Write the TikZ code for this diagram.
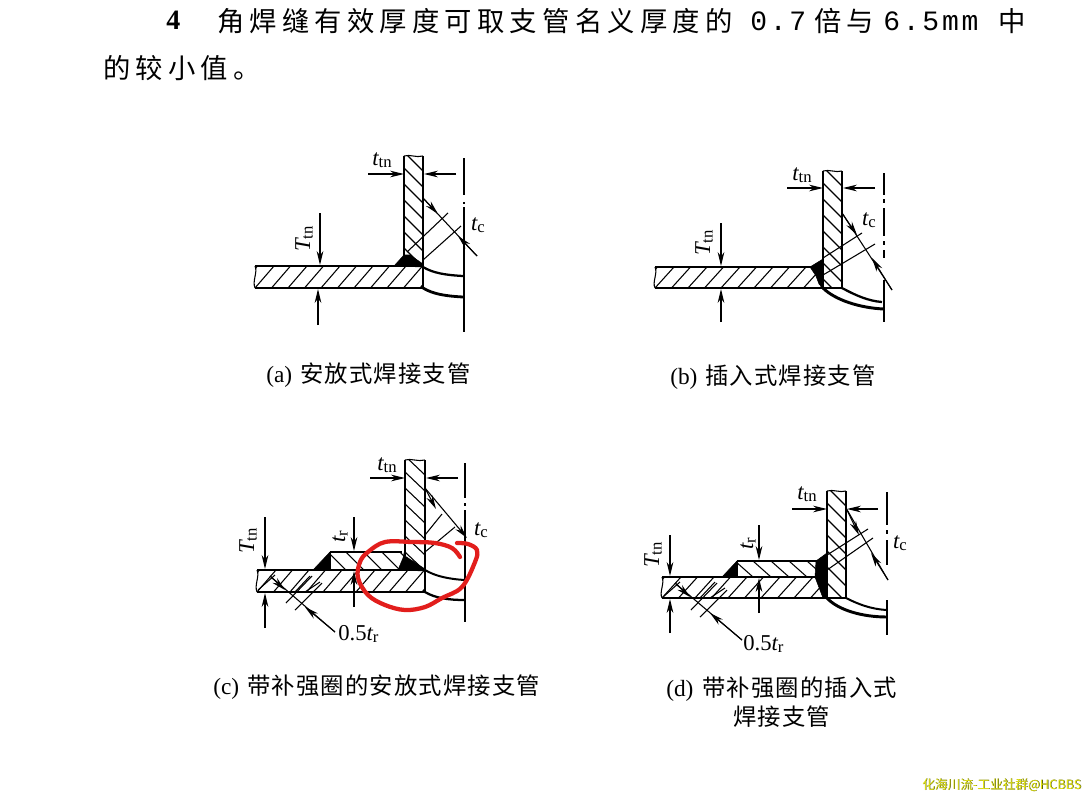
\documentclass[tikz,border=0pt]{standalone}
\usepackage{fontspec}
\setmainfont{Liberation Serif}
\newfontfamily\cjktitle[LetterSpace=19]{Noto Sans CJK SC}
\newfontfamily\cjkcap[LetterSpace=5]{Noto Sans CJK SC}
\newfontfamily\cjkmark{Noto Sans CJK SC}
\newfontfamily\digits[LetterSpace=10]{Liberation Mono}
\usetikzlibrary{arrows.meta}
\definecolor{inkred}{RGB}{226,30,28}
\definecolor{markyellow}{RGB}{232,232,20}
\definecolor{markdark}{RGB}{50,60,0}
\tikzset{
  outline/.style={line width=2.1pt,black},
  thinline/.style={line width=0.8pt,black},
  hatchline/.style={line width=0.8pt,black},
  dim/.style={line width=0.8pt,black,-{Stealth[length=10.5pt,width=5pt]}},
  dimline/.style={line width=0.8pt,black},
  centerline/.style={line width=1pt,black},
  weld/.style={fill=black,draw=black,line width=0.4pt},
  lbl/.style={inner sep=0pt,font=\fontsize{17}{17}\selectfont},
  titletext/.style={inner sep=0pt,anchor=base west,font=\fontsize{20.5}{21}\selectfont\cjktitle},
  captext/.style={inner sep=0pt,anchor=base west,font=\fontsize{17.5}{18}\selectfont\cjkcap},
  caplatin/.style={inner sep=0pt,anchor=base west,font=\fontsize{17.5}{18}\selectfont}
}
\newcommand{\Ttn}{{\itshape T}\raisebox{-0.25ex}{\fontsize{12.5}{12}\selectfont tn}}
\newcommand{\ttn}{{\itshape t}\raisebox{-0.25ex}{\fontsize{12.5}{12}\selectfont tn}}
\newcommand{\tc}{{\itshape t}\raisebox{-0.25ex}{\fontsize{12.5}{12}\selectfont c}}
\newcommand{\trr}{{\itshape t}\raisebox{-0.25ex}{\fontsize{12.5}{12}\selectfont r}}
% header hatch: x1,y1,x2,y2  ("/" lines)
\newcommand{\hatchH}[4]{\begin{scope}
  \clip (#1,#2) rectangle (#3,#4);
  \foreach \k in {-2,...,12}{\draw[hatchline] (#1+16.5*\k,#4) -- (#1+16.5*\k+19,#2);}
\end{scope}}
% branch hatch: x1,y1,x2,y2  ("\" lines)
\newcommand{\hatchB}[4]{\begin{scope}
  \clip (#1,#2) rectangle (#3,#4);
  \foreach \yy in {-20,-4,...,180}{\draw[hatchline] (#1,#2+\yy) -- (#3,#2+\yy+19);}
\end{scope}}
% pad hatch: x1,y1,x2,y2
\newcommand{\hatchP}[4]{\begin{scope}
  \clip (#1,#2) rectangle (#3,#4);
  \foreach \xx in {-20,-2,...,120}{\draw[hatchline] (#1+\xx,#2) -- (#1+\xx+18,#4);}
\end{scope}}
\begin{document}
\begin{tikzpicture}[x=0.75pt,y=-0.75pt]
\useasboundingbox (0,0) rectangle (1090,801);
\fill[white] (0,0) rectangle (1090,801);

% ---------- top text
\node[inner sep=0pt,anchor=base west,font=\fontsize{21}{21}\selectfont\bfseries] (num) at (166,29) {4};
\node[titletext] (line1a) at (217,31) {角焊缝有效厚度可取支管名义厚度的};
\node[inner sep=0pt,anchor=base west,font=\fontsize{21}{21}\selectfont\digits] (line1b) at (750,30) {0.7};
\node[titletext] (line1c) at (814,31) {倍与};
\node[inner sep=0pt,anchor=base west,font=\fontsize{21}{21}\selectfont\digits] (line1d) at (883,30) {6.5mm};
\node[titletext] (line1e) at (998,31) {中};
\node[titletext] (line2) at (103,78) {的较小值。};

% ---------- (a)
\hatchH{255}{266}{423}{288}
\hatchB{404}{156}{423}{266}
\draw[outline] (404,156) -- (404,262);
\draw[outline] (423,156) -- (423,288);
\draw[outline] (255,266) -- (423,266);
\draw[outline] (255,288) -- (423,288);
\draw[thinline] (404,156) .. controls (410,154) and (416,158) .. (423,156);
\draw[thinline] (255,266) .. controls (258,272) and (252,281) .. (255,288);
\fill[weld] (394,266) -- (404,255) -- (410,255) -- (423,264) -- (423,267) -- cycle;
\draw[line width=1.7pt] (423,267) .. controls (433,273) and (445,275) .. (463,276);
\draw[line width=2.1pt] (423,288) .. controls (433,294) and (445,296) .. (463,297);
\draw[centerline] (464,158) -- (464,195) (464,202) -- (464,204) (464,207) -- (464,332);
\draw[dim] (368,174) -- (404,174);
\draw[dim] (456,174) -- (424,174);
\node[lbl] (ta) at (382,160) {\ttn};
\draw[dimline] (423,198) -- (477,256);
\draw[dim] (423,198) -- (438,214);
\draw[dim] (477,256) -- (458,236);
\draw[dimline] (407,252) -- (448,213);
\draw[dimline] (423,260) -- (461,226);
\node[lbl] (tca) at (478,225) {\tc};
\draw[dim] (320,213) -- (320,265);
\draw[dim] (318,325) -- (318,289);
\node[lbl,rotate=90] (Ta) at (304,239) {\Ttn};

% ---------- (b)
\hatchH{655}{267}{823}{288}
\hatchB{823}{171}{842}{288}
\draw[outline] (823,171) -- (823,288);
\draw[outline] (842,171) -- (842,288);
\draw[outline] (655,267) -- (812,267);
\draw[outline] (655,288) -- (842,288);
\draw[thinline] (823,171) .. controls (829,169) and (836,173) .. (842,171);
\draw[thinline] (655,267) .. controls (658,273) and (652,282) .. (655,288);
\fill[weld] (810,267) -- (823,259) -- (823,288) -- (819,284) -- (816,276) -- cycle;
\draw[line width=1.7pt] (842,288) .. controls (855,295) and (868,301) .. (882,302);
\draw[line width=2.2pt] (823,288) .. controls (835,300) and (860,308) .. (884,309);
\draw[centerline] (884,173) -- (884,195) (884,199) -- (884,203) (884,208) -- (884,236) (884,241) -- (884,245) (884,250) -- (884,258) (884,280) -- (884,322);
\draw[dim] (787,188) -- (823,188);
\draw[dim] (875,188) -- (843,188);
\node[lbl] (tb) at (802,175) {\ttn};
\draw[dimline] (842,213) -- (892,290);
\draw[dim] (842,213) -- (857,235);
\draw[dim] (892,290) -- (872,258);
\draw[dimline] (823,258) -- (862,233);
\draw[dimline] (823,275) -- (875,244);
\node[lbl] (tcb) at (869,220) {\tc};
\draw[dim] (721,223) -- (721,266);
\draw[dim] (721,322) -- (721,289);
\node[lbl,rotate=90] (Tb) at (704,243) {\Ttn};

% ---------- (c)
\hatchH{257}{570}{425}{592}
\hatchB{405}{460}{425}{570}
\hatchP{330}{552}{405}{570}
\draw[outline] (405,460) -- (405,556);
\draw[outline] (425,460) -- (425,592);
\draw[outline] (257,570) -- (425,570);
\draw[outline] (257,592) -- (425,592);
\draw[outline] (330,552) -- (402,552);
\draw[outline] (330,552) -- (330,570);
\draw[thinline] (405,460) .. controls (411,458) and (418,462) .. (425,460);
\draw[thinline] (257,570) .. controls (260,576) and (254,585) .. (257,592);
\fill[weld] (313,570) -- (330,552) -- (330,570) -- cycle;
\fill[weld] (398,570) -- (403,558) -- (405,549) -- (405,556) -- (425,569) -- (425,571) -- cycle;
\draw[line width=1.5pt] (425,570) .. controls (435,576) and (448,579) .. (465,580);
\draw[line width=1.7pt] (425,592) .. controls (435,598) and (448,600) .. (465,600);
\draw[centerline] (465,463) -- (465,498) (465,503) -- (465,506) (465,510) -- (465,622);
\draw[dim] (370,478) -- (405,478);
\draw[dim] (458,478) -- (426,478);
\node[lbl] (tcc) at (387,465) {\ttn};
\draw[dim] (425,488) -- (436,509);
\draw[dim] (425,488) -- (467,538);
\draw[dimline] (425,535) -- (442,514);
\draw[dimline] (425,552) -- (455,527);
\node[lbl] (tccc) at (481,530) {\tc};
\draw[dim] (354,517) -- (354,551);
\draw[dim] (354,607) -- (354,571);
\node[lbl,rotate=90] (trc) at (340,537) {\trr};
\draw[dim] (265,517) -- (265,569);
\draw[dim] (265,628) -- (265,593);
\node[lbl,rotate=90] (Tc) at (248,541) {\Ttn};
\draw[dimline] (335,632) -- (270,576);
\draw[dim] (335,632) -- (305,607);
\draw[dim] (270,576) -- (285,590);
\draw[dimline] (258,590) -- (275,575);
\draw[dimline] (286,603) -- (312,576);
\draw[dimline] (295,610) -- (322,583);
\draw[hatchline] (295,592) -- (310,576) (305,592) -- (320,582);
\node[lbl,anchor=base west] (hc) at (338,640) {0.5\trr};

% ---------- (d)
\hatchH{662}{577}{827}{598}
\hatchB{827}{491}{846}{598}
\hatchP{737}{561}{820}{577}
\draw[outline] (827,491) -- (827,598);
\draw[outline] (846,491) -- (846,598);
\draw[outline] (662,577) -- (827,577);
\draw[outline] (662,598) -- (846,598);
\draw[outline] (737,561) -- (817,561);
\draw[outline] (737,561) -- (737,577);
\draw[thinline] (827,491) .. controls (833,489) and (840,493) .. (846,491);
\draw[thinline] (662,577) .. controls (665,583) and (659,592) .. (662,598);
\fill[weld] (722,577) -- (737,561) -- (737,577) -- cycle;
\fill[weld] (816,561) -- (827,553) -- (827,598) -- (823,598) -- (815,577) -- cycle;
\draw[line width=1.5pt] (846,598) .. controls (858,604) and (870,609) .. (887,610);
\draw[line width=2.2pt] (827,598) .. controls (838,610) and (862,617) .. (887,617);
\draw[centerline] (887,492) -- (887,525) (887,530) -- (887,534) (887,540) -- (887,565) (887,600) -- (887,635);
\draw[dim] (792,509) -- (827,509);
\draw[dim] (878,509) -- (847,509);
\node[lbl] (td) at (807,494) {\ttn};
\draw[dimline] (846,508) -- (888,580);
\draw[dim] (846,508) -- (859,535);
\draw[dim] (888,580) -- (871,553);
\draw[dimline] (827,555) -- (868,529);
\draw[dimline] (827,570) -- (873,538);
\node[lbl] (tcd) at (900,543) {\tc};
\draw[dim] (759,525) -- (759,560);
\draw[dim] (759,613) -- (759,578);
\node[lbl,rotate=90] (trd) at (748,544) {\trr};
\draw[dim] (670,535) -- (670,576);
\draw[dim] (670,633) -- (670,599);
\node[lbl,rotate=90] (Td) at (653,555) {\Ttn};
\draw[dimline] (742,640) -- (675,583);
\draw[dim] (742,640) -- (710,613);
\draw[dim] (675,583) -- (690,597);
\draw[dimline] (663,597) -- (680,582);
\draw[dimline] (691,610) -- (717,583);
\draw[dimline] (700,617) -- (727,590);
\draw[hatchline] (700,598) -- (715,582) (710,598) -- (725,588);
\node[lbl,anchor=base west] (hd) at (743,650) {0.5\trr};

% ---------- captions
\node[caplatin] (capa) at (266,382) {(a)};
\node[captext] (capaz) at (300,382) {安放式焊接支管};
\node[caplatin] (capb) at (670,384) {(b)};
\node[captext] (capbz) at (705,384) {插入式焊接支管};
\node[caplatin] (capc) at (213,694) {(c)};
\node[captext] (capcz) at (247,694) {带补强圈的安放式焊接支管};
\node[caplatin] (capd) at (666,696) {(d)};
\node[captext] (capdz) at (702,696) {带补强圈的插入式};
\node[captext] (capdy) at (733,725) {焊接支管};

% ---------- red hand-drawn ring
\draw[inkred,line width=3.2pt,line cap=round,line join=round]
  plot[smooth,tension=0.6] coordinates {(460,557) (452,548) (435,543) (412,542) (385,542) (368,552) (360,562) (358,578) (368,595) (385,605) (405,610) (425,607) (442,598) (462,587) (475,562) (477,550) (468,544) (457,543)};

% ---------- watermark
\node[inner sep=0pt,anchor=base west,font=\fontsize{9.5}{10}\selectfont\cjkmark] (mark) at (922,789)
  {\rlap{\kern0.4pt\raisebox{-0.4pt}{\color{markdark}化海川流-工业社群@HCBBS}}\color{markyellow}化海川流-工业社群@HCBBS};
\end{tikzpicture}
\end{document}
